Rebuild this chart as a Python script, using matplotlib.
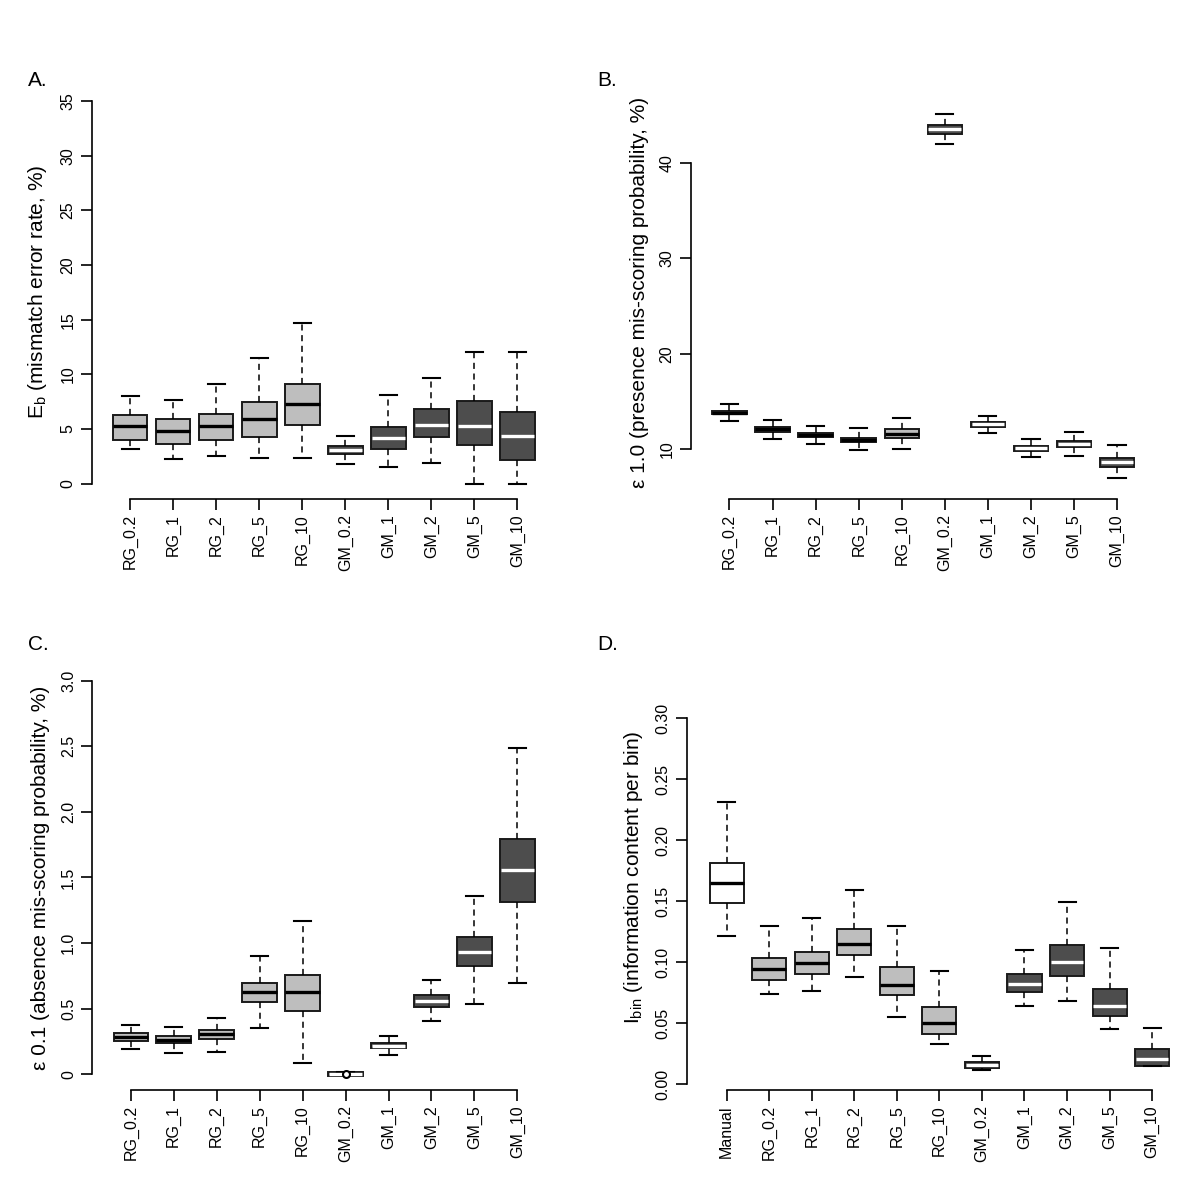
import numpy as np
import matplotlib
matplotlib.use('Agg')
import matplotlib.pyplot as plt

plt.rcParams['font.family'] = ['Liberation Sans', 'DejaVu Sans']
plt.rcParams['mathtext.default'] = 'regular'

# ---------- data ----------
groups = ['RG_0.2', 'RG_1', 'RG_2', 'RG_5', 'RG_10',
          'GM_0.2', 'GM_1', 'GM_2', 'GM_5', 'GM_10']
groups_d = ['Manual'] + groups

# A. mismatch error rate
a_lo  = [3.20, 2.23, 2.50, 2.35, 2.35, 1.77, 1.53, 1.89, 0.00, 0.00]
a_q1  = [4.03, 3.63, 4.03, 4.30, 5.40, 2.69, 3.20, 4.30, 3.51, 2.20]
a_med = [5.25, 4.85, 5.25, 5.95, 7.26, 3.11, 4.21, 5.40, 5.28, 4.39]
a_q3  = [6.32, 5.95, 6.41, 7.48, 9.09, 3.42, 5.19, 6.87, 7.60, 6.53]
a_hi  = [8.03, 7.63, 9.09, 11.53, 14.65, 4.33, 8.09, 9.67, 12.00, 12.00]

# B. presence mis-scoring probability
b_lo  = [12.93, 11.11, 10.59, 9.90, 10.00, 41.97, 11.74, 9.23, 9.33, 6.96]
b_q1  = [13.68, 11.80, 11.28, 10.78, 11.15, 43.04, 12.37, 9.85, 10.21, 8.18]
b_med = [13.85, 12.09, 11.50, 11.00, 11.60, 43.50, 12.65, 10.10, 10.55, 8.64]
b_q3  = [14.03, 12.35, 11.72, 11.22, 12.09, 43.95, 12.89, 10.38, 10.87, 9.12]
b_hi  = [14.74, 13.07, 12.47, 12.20, 13.31, 45.10, 13.52, 11.04, 11.78, 10.45]

# C. absence mis-scoring probability
c_lo  = [0.189, 0.162, 0.170, 0.356, 0.084, 0.000, 0.149, 0.403, 0.532, 0.694]
c_q1  = [0.257, 0.236, 0.265, 0.553, 0.485, -0.012, 0.199, 0.516, 0.825, 1.310]
c_med = [0.286, 0.262, 0.304, 0.624, 0.624, 0.004, 0.217, 0.555, 0.935, 1.559]
c_q3  = [0.317, 0.291, 0.335, 0.694, 0.757, 0.018, 0.236, 0.605, 1.043, 1.790]
c_hi  = [0.375, 0.359, 0.432, 0.901, 1.169, 0.018, 0.291, 0.721, 1.362, 2.486]
c_out = [[], [], [], [], [], [0.003], [], [], [], []]

# D. information content per bin
d_lo  = [0.1214, 0.0738, 0.0763, 0.0882, 0.0546, 0.0327, 0.0113, 0.0637, 0.0682, 0.0448, 0.0146]
d_q1  = [0.1482, 0.0854, 0.0899, 0.1056, 0.0727, 0.0408, 0.0135, 0.0755, 0.0890, 0.0555, 0.0146]
d_med = [0.1650, 0.0941, 0.0992, 0.1146, 0.0814, 0.0504, 0.0158, 0.0820, 0.1000, 0.0639, 0.0203]
d_q3  = [0.1817, 0.1037, 0.1082, 0.1273, 0.0963, 0.0628, 0.0177, 0.0901, 0.1138, 0.0783, 0.0285]
d_hi  = [0.2310, 0.1296, 0.1366, 0.1592, 0.1296, 0.0927, 0.0231, 0.1101, 0.1493, 0.1113, 0.0456]

light = '#bebebe'
dark = '#4d4d4d'


def panel(ax, names, lo, q1, med, q3, hi, fills, medcols, out=None):
    stats = []
    for i in range(len(names)):
        stats.append(dict(whislo=lo[i], q1=q1[i], med=med[i], q3=q3[i],
                          whishi=hi[i], fliers=(out[i] if out else [])))
    pos = np.arange(1, len(names) + 1)
    bp = ax.bxp(stats, positions=pos, widths=0.8, patch_artist=True,
                showfliers=True, capwidths=0.4,
                boxprops=dict(edgecolor='#1a1a1a', linewidth=1.4),
                whiskerprops=dict(color='black', linestyle=(0, (4, 3)), linewidth=1.1),
                capprops=dict(color='black', linewidth=1.5),
                medianprops=dict(linewidth=2.4, solid_capstyle='butt'),
                flierprops=dict(marker='o', markerfacecolor='white',
                                markeredgecolor='black', markersize=5, markeredgewidth=1.5,
                                zorder=4))
    for patch, fc in zip(bp['boxes'], fills):
        patch.set_facecolor(fc)
    for m, mc in zip(bp['medians'], medcols):
        m.set_color(mc)
        xd = m.get_xdata()
        # keep white medians inside the box border
        if mc == 'white':
            m.set_xdata([xd[0] + 0.02, xd[1] - 0.02])
    ax.set_xticks(pos)
    ax.set_xticklabels(names, rotation=90, fontsize=11.5)
    ax.spines['top'].set_visible(False)
    ax.spines['right'].set_visible(False)
    ax.spines['bottom'].set_bounds(1, len(names))
    for s in ('left', 'bottom'):
        ax.spines[s].set_linewidth(1.2)
    ax.tick_params(length=8, width=1.2, labelsize=11.5)
    ax.tick_params(axis='x', pad=3)


def rot_y(ax):
    for lab in ax.get_yticklabels():
        lab.set_rotation(90)
        lab.set_va('center')


fills10 = [light] * 5 + [dark] * 5
meds10 = ['black'] * 5 + ['white'] * 5

fig = plt.figure(figsize=(12, 12), dpi=100)

# A
ax = fig.add_axes([0.0763, 0.5842, 0.3871, 0.3444])
panel(ax, groups, a_lo, a_q1, a_med, a_q3, a_hi, fills10, meds10)
ax.set_xlim(0.1, 10.9)
ax.set_ylim(-1.4, 36.4)
ax.set_yticks(np.arange(0, 36, 5))
ax.spines['left'].set_bounds(0, 35)
rot_y(ax)
ax.set_ylabel('E$_{b}$ (mismatch error rate, %)', fontsize=15, labelpad=8)

# B
ax = fig.add_axes([0.5756, 0.5842, 0.3876, 0.3444])
panel(ax, groups, b_lo, b_q1, b_med, b_q3, b_hi, fills10, meds10)
ax.set_xlim(0.1, 10.9)
ax.set_ylim(4.80, 48.06)
ax.set_yticks([10, 20, 30, 40])
ax.spines['left'].set_bounds(10, 40)
rot_y(ax)
ax.set_ylabel('ε 1.0 (presence mis-scoring probability, %)', fontsize=15, labelpad=8)

# C
ax = fig.add_axes([0.0767, 0.0917, 0.3867, 0.3542])
panel(ax, groups, c_lo, c_q1, c_med, c_q3, c_hi, fills10, meds10, out=c_out)
ax.set_xlim(0.1, 10.9)
ax.set_ylim(-0.12, 3.12)
ax.set_yticks([0, 0.5, 1.0, 1.5, 2.0, 2.5, 3.0])
ax.set_yticklabels(['0', '0.5', '1.0', '1.5', '2.0', '2.5', '3.0'])
ax.spines['left'].set_bounds(0, 3)
rot_y(ax)
ax.set_ylabel('ε 0.1 (absence mis-scoring probability, %)', fontsize=15, labelpad=8)

# D
ax = fig.add_axes([0.5723, 0.0917, 0.4211, 0.3542])
panel(ax, groups_d, d_lo, d_q1, d_med, d_q3, d_hi,
      ['white'] + fills10, ['black'] + meds10)
ax.set_xlim(0.06, 11.94)
ax.set_ylim(-0.0049, 0.3439)
ax.set_yticks([0, 0.05, 0.10, 0.15, 0.20, 0.25, 0.30])
ax.set_yticklabels(['0.00', '0.05', '0.10', '0.15', '0.20', '0.25', '0.30'])
ax.spines['left'].set_bounds(0, 0.30)
rot_y(ax)
ax.set_ylabel('I$_{bin}$ (information content per bin)', fontsize=15, labelpad=8)

for lbl, x, y in [('A.', 0.023, 0.928), ('B.', 0.498, 0.928),
                  ('C.', 0.023, 0.458), ('D.', 0.498, 0.458)]:
    fig.text(x, y, lbl, fontsize=15)

plt.savefig('out.png', dpi=100)
